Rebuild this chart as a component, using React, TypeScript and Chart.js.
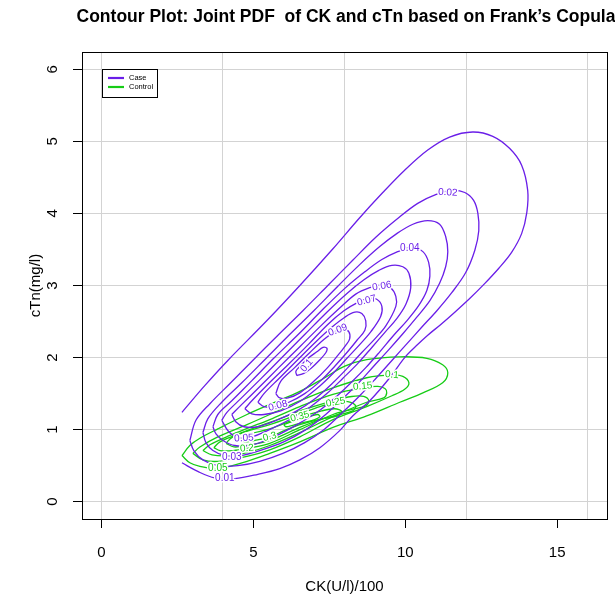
import React, { useEffect, useRef } from 'react';
import { Chart, registerables } from 'chart.js';
Chart.register(...registerables);

const titleText = "Contour Plot: Joint PDF  of CK and cTn based on Frank\u2019s Copula";
const xTitle = 'CK(U/l)/100';
const yTitle = 'cTn(mg/l)';
const xTicks = [0, 5, 10, 15];
const xGridLines = [0, 4, 8, 12, 16];
const yTicks = [0, 1, 2, 3, 4, 5, 6];
const seriesNames = ['Case', 'Control'];
const caseColor = '#6a1ee8';
const ctrlColor = '#16cc16';

// Case contours (CK, cTn); level 0.01 is open at the left edge
const case001 = [[2.65,1.24],[3.40,1.61],[4.16,1.96],[5.44,2.51],[6.53,3.00],[7.62,3.51],[8.50,3.94],[9.26,4.29],[9.98,4.60],[10.74,4.88],[11.46,5.06],[12.22,5.13],[12.88,5.07],[13.44,4.90],[13.83,4.67],[14.03,4.32],[14.00,4.01],[13.83,3.72],[13.50,3.46],[13.08,3.24],[12.62,3.03],[12.12,2.82],[11.63,2.63],[11.17,2.46],[10.74,2.31],[10.38,2.17],[9.98,2.00],[9.49,1.72],[8.83,1.40],[8.27,1.19],[7.85,0.99],[7.19,0.75],[6.53,0.58],[5.87,0.46],[5.15,0.38],[4.39,0.32],[3.73,0.33],[3.17,0.42],[2.65,0.54]];
const case002 = [[2.91,0.85],[3.11,1.13],[3.57,1.36],[4.23,1.64],[4.98,1.96],[5.81,2.31],[6.63,2.65],[7.45,3.00],[8.27,3.35],[9.03,3.67],[9.75,3.93],[10.41,4.14],[11.00,4.26],[11.53,4.32],[11.96,4.29],[12.25,4.18],[12.39,4.00],[12.42,3.76],[12.29,3.49],[11.99,3.18],[11.53,2.90],[11.04,2.65],[10.54,2.42],[10.05,2.19],[9.56,1.96],[9.03,1.71],[8.50,1.47],[7.94,1.24],[7.35,1.01],[6.69,0.82],[5.97,0.67],[5.21,0.56],[4.49,0.50],[3.83,0.50],[3.34,0.58],[3.04,0.71]];
const case003 = [[3.34,0.96],[3.50,1.15],[3.96,1.38],[4.62,1.65],[5.35,1.96],[6.17,2.31],[6.99,2.65],[7.78,2.99],[8.50,3.29],[9.16,3.54],[9.72,3.72],[10.25,3.85],[10.74,3.90],[11.13,3.85],[11.33,3.68],[11.40,3.47],[11.33,3.26],[11.13,3.03],[10.81,2.79],[10.38,2.56],[9.92,2.33],[9.46,2.11],[8.96,1.88],[8.47,1.65],[7.94,1.43],[7.38,1.21],[6.73,1.00],[6.00,0.83],[5.21,0.71],[4.56,0.64],[4.06,0.64],[3.67,0.71],[3.44,0.82]];
const case004 = [[3.67,1.04],[3.83,1.21],[4.29,1.40],[4.95,1.68],[5.67,1.99],[6.50,2.33],[7.29,2.67],[8.01,2.96],[8.67,3.19],[9.23,3.36],[9.75,3.47],[10.21,3.53],[10.58,3.47],[10.77,3.32],[10.81,3.13],[10.71,2.93],[10.44,2.72],[10.05,2.51],[9.62,2.31],[9.16,2.08],[8.70,1.86],[8.21,1.65],[7.68,1.44],[7.09,1.24],[6.40,1.06],[5.67,0.90],[4.98,0.79],[4.39,0.78],[4.00,0.85],[3.77,0.94]];
const case005 = [[3.96,1.13],[4.13,1.24],[4.56,1.42],[5.21,1.69],[5.94,2.00],[6.69,2.32],[7.42,2.63],[8.08,2.89],[8.64,3.08],[9.13,3.21],[9.56,3.28],[9.92,3.26],[10.12,3.17],[10.18,2.97],[10.02,2.74],[9.72,2.54],[9.33,2.35],[8.90,2.14],[8.44,1.92],[7.94,1.71],[7.42,1.50],[6.86,1.31],[6.20,1.14],[5.48,0.99],[4.88,0.89],[4.49,0.89],[4.19,0.97]];
const case006 = [[4.29,1.21],[4.62,1.35],[5.15,1.57],[5.81,1.85],[6.53,2.15],[7.22,2.44],[7.85,2.69],[8.37,2.88],[8.83,2.97],[9.23,3.01],[9.52,2.97],[9.69,2.85],[9.69,2.71],[9.36,2.44],[9.00,2.26],[8.57,2.07],[8.11,1.86],[7.62,1.65],[7.06,1.44],[6.43,1.26],[5.77,1.13],[5.15,1.04],[4.69,1.04],[4.42,1.11]];
const case007 = [[4.72,1.29],[4.95,1.40],[5.48,1.63],[6.14,1.90],[6.83,2.19],[7.45,2.46],[7.98,2.65],[8.41,2.76],[8.77,2.82],[9.06,2.81],[9.23,2.71],[9.19,2.57],[8.87,2.36],[8.50,2.18],[8.08,1.99],[7.62,1.78],[7.09,1.57],[6.53,1.39],[5.90,1.26],[5.35,1.21],[4.95,1.22]];
const case008 = [[5.15,1.38],[5.35,1.50],[5.87,1.72],[6.46,1.97],[7.06,2.22],[7.58,2.42],[8.01,2.56],[8.34,2.63],[8.57,2.61],[8.70,2.51],[8.67,2.38],[8.41,2.24],[8.08,2.07],[7.68,1.88],[7.22,1.68],[6.69,1.50],[6.17,1.38],[5.71,1.32],[5.35,1.32]];
const case009 = [[5.74,1.50],[5.90,1.67],[6.36,1.86],[6.86,2.07],[7.32,2.25],[7.68,2.36],[7.94,2.40],[8.14,2.36],[8.17,2.26],[8.04,2.17],[7.78,2.03],[7.42,1.85],[6.99,1.67],[6.53,1.51],[6.14,1.44],[5.87,1.44]];
const case010 = [[6.43,1.75],[6.40,1.81],[6.56,1.89],[6.83,2.00],[7.09,2.08],[7.29,2.14],[7.42,2.13],[7.39,2.07],[7.19,1.97],[6.92,1.86],[6.66,1.78]];

// Control contours
const ctrl005 = [[2.65,0.64],[2.91,0.78],[3.24,0.88],[3.83,1.01],[4.79,1.21],[5.54,1.35],[6.53,1.53],[7.35,1.72],[8.01,1.88],[8.73,1.97],[9.82,2.01],[10.71,1.99],[11.23,1.90],[11.40,1.79],[11.23,1.65],[10.58,1.51],[9.82,1.38],[8.73,1.19],[7.62,1.03],[6.53,0.83],[5.54,0.67],[4.79,0.56],[3.83,0.46],[3.24,0.49],[2.91,0.54]];
const ctrl010 = [[3.01,0.67],[3.24,0.76],[3.83,0.90],[4.79,1.07],[5.54,1.21],[6.53,1.40],[7.62,1.58],[8.73,1.72],[9.56,1.76],[9.92,1.74],[10.12,1.65],[9.98,1.56],[9.56,1.47],[8.73,1.32],[7.62,1.14],[6.53,0.90],[5.54,0.72],[4.79,0.63],[3.83,0.56],[3.34,0.58]];
const ctrl015 = [[3.34,0.71],[3.57,0.79],[4.23,0.92],[4.88,1.03],[5.54,1.14],[6.53,1.32],[7.62,1.49],[8.60,1.58],[9.10,1.60],[9.33,1.57],[9.39,1.51],[9.29,1.44],[8.73,1.38],[7.62,1.18],[6.53,0.96],[5.54,0.78],[4.79,0.68],[4.23,0.64],[3.64,0.65]];
const ctrl020 = [[3.70,0.75],[3.90,0.83],[4.39,0.92],[4.88,1.00],[5.54,1.10],[6.53,1.26],[7.62,1.40],[8.24,1.46],[8.63,1.46],[8.80,1.40],[8.70,1.33],[8.24,1.28],[7.62,1.21],[6.53,1.00],[5.54,0.81],[4.79,0.74],[4.33,0.71],[3.90,0.71]];
const ctrl025 = [[4.10,0.81],[4.29,0.89],[4.88,0.99],[5.54,1.07],[6.53,1.22],[7.19,1.32],[7.71,1.38],[8.11,1.39],[8.37,1.33],[8.27,1.26],[7.85,1.21],[7.19,1.14],[6.53,1.03],[5.54,0.85],[4.79,0.78],[4.36,0.76]];
const ctrl030 = [[4.56,0.86],[4.88,0.94],[5.54,1.01],[6.53,1.17],[7.25,1.26],[7.68,1.29],[7.91,1.25],[7.78,1.19],[7.25,1.15],[6.53,1.07],[6.04,0.99],[5.54,0.90],[5.05,0.85],[4.75,0.83]];
const ctrl035 = [[6.00,1.07],[6.27,1.11],[6.60,1.15],[6.92,1.19],[7.12,1.21],[7.19,1.18],[7.02,1.14],[6.66,1.10],[6.30,1.06],[6.07,1.04]];

// contour labels: text, position (CK, cTn), angle in degrees
const caseLabelText = ['0.01','0.02','0.03','0.04','0.05','0.06','0.07','0.08','0.09','0.1'];
const caseLabelPos = [[4.06,0.33],[11.40,4.29],[4.29,0.61],[10.15,3.51],[4.69,0.88],[9.23,2.99],[8.73,2.79],[5.81,1.33],[7.78,2.38],[6.76,1.89]];
const caseLabelAngle = [0, 3, 0, 0, -3, -10, -15, -15, -20, -50];
const ctrlLabelText = ['0.05','0.1','0.15','0.2','0.25','0.3','0.35'];
const ctrlLabelPos = [[3.83,0.46],[9.56,1.76],[8.60,1.60],[4.79,0.74],[7.71,1.38],[5.54,0.90],[6.53,1.18]];
const ctrlLabelAngle = [0, 5, -5, -5, -10, -15, -15];

const caseContours = [case001, case002, case003, case004, case005, case006, case007, case008, case009, case010];
const caseClosed = [false, true, true, true, true, true, true, true, true, true];
const ctrlContours = [ctrl005, ctrl010, ctrl015, ctrl020, ctrl025, ctrl030, ctrl035];

const FONT = "'Liberation Sans', Arial, Helvetica, sans-serif";

function toPoints(arr: number[][], closed: boolean) {
  const pts = arr.map(([x, y]) => ({ x, y }));
  if (closed) pts.push({ x: arr[0][0], y: arr[0][1] });
  return pts;
}

const decorPlugin = {
  id: 'decor',
  afterDatasetsDraw(chart: any) {
    const ctx = chart.ctx;
    const xs = chart.scales.x;
    const ys = chart.scales.y;
    const area = chart.chartArea;
    ctx.save();
    ctx.beginPath();
    ctx.rect(area.left, area.top, area.right - area.left, area.bottom - area.top);
    ctx.clip();
    const drawLabels = (texts: string[], pos: number[][], ang: number[], color: string) => {
      texts.forEach((t, i) => {
        const px = xs.getPixelForValue(pos[i][0]);
        const py = ys.getPixelForValue(pos[i][1]);
        ctx.save();
        ctx.translate(px, py);
        ctx.rotate((ang[i] * Math.PI) / 180);
        ctx.font = `10px ${FONT}`;
        ctx.textAlign = 'center';
        ctx.textBaseline = 'middle';
        ctx.lineWidth = 3;
        ctx.strokeStyle = '#ffffff';
        ctx.strokeText(t, 0, 0);
        ctx.fillStyle = color;
        ctx.fillText(t, 0, 0);
        ctx.restore();
      });
    };
    drawLabels(caseLabelText, caseLabelPos, caseLabelAngle, caseColor);
    drawLabels(ctrlLabelText, ctrlLabelPos, ctrlLabelAngle, ctrlColor);
    ctx.restore();
  },
  afterDraw(chart: any) {
    const ctx = chart.ctx;
    const xs = chart.scales.x;
    const ys = chart.scales.y;
    const area = chart.chartArea;
    ctx.save();
    ctx.strokeStyle = '#000';
    ctx.lineWidth = 1;
    ctx.strokeRect(Math.round(area.left) + 0.5, Math.round(area.top) + 0.5, Math.round(area.right - area.left), Math.round(area.bottom - area.top));
    ctx.fillStyle = '#000';
    ctx.font = `bold 17.5px ${FONT}`;
    ctx.textAlign = 'center';
    ctx.textBaseline = 'alphabetic';
    ctx.fillText(titleText, 346, 22);
    ctx.font = `15px ${FONT}`;
    xTicks.forEach((v) => {
      ctx.fillText(String(v), xs.getPixelForValue(v), 557);
    });
    ctx.fillText(xTitle, (area.left + area.right) / 2, 591);
    yTicks.forEach((v) => {
      ctx.save();
      ctx.translate(57, ys.getPixelForValue(v));
      ctx.rotate(-Math.PI / 2);
      ctx.fillText(String(v), 0, 0);
      ctx.restore();
    });
    ctx.save();
    ctx.translate(40, (area.top + area.bottom) / 2);
    ctx.rotate(-Math.PI / 2);
    ctx.fillText(yTitle, 0, 0);
    ctx.restore();
    const lx = area.left + 20, ly = area.top + 17;
    ctx.fillStyle = '#fff';
    ctx.fillRect(lx, ly, 55, 28);
    ctx.strokeStyle = '#000';
    ctx.lineWidth = 1;
    ctx.strokeRect(lx + 0.5, ly + 0.5, 55, 28);
    const cols = [caseColor, ctrlColor];
    seriesNames.forEach((n, i) => {
      const yy = ly + 9 + i * 9;
      ctx.strokeStyle = cols[i];
      ctx.lineWidth = 2.2;
      ctx.beginPath();
      ctx.moveTo(lx + 6, yy);
      ctx.lineTo(lx + 22, yy);
      ctx.stroke();
      ctx.fillStyle = '#000';
      ctx.font = `7.5px ${FONT}`;
      ctx.textAlign = 'left';
      ctx.textBaseline = 'middle';
      ctx.fillText(n, lx + 27, yy);
    });
    ctx.restore();
  },
};

export default function App() {
  const ref = useRef<HTMLCanvasElement | null>(null);
  useEffect(() => {
    if (!ref.current) return;
    const datasets: any[] = [];
    caseContours.forEach((c, i) => {
      datasets.push({
        data: toPoints(c, caseClosed[i]),
        borderColor: caseColor,
        borderWidth: 1.3,
        showLine: true,
        pointRadius: 0,
        tension: 0.35,
        fill: false,
      });
    });
    ctrlContours.forEach((c) => {
      datasets.push({
        data: toPoints(c, true),
        borderColor: ctrlColor,
        borderWidth: 1.3,
        showLine: true,
        pointRadius: 0,
        tension: 0.35,
        fill: false,
      });
    });
    const chart = new Chart(ref.current, {
      type: 'scatter',
      data: { datasets },
      options: {
        animation: false,
        responsive: false,
        devicePixelRatio: 1,
        layout: { padding: { left: 0, top: 52, right: 8, bottom: 0 } },
        plugins: { legend: { display: false }, tooltip: { enabled: false }, title: { display: false } },
        scales: {
          x: {
            type: 'linear',
            position: 'bottom',
            min: -0.64,
            max: 16.64,
            afterBuildTicks: (s: any) => { s.ticks = xTicks.map((v) => ({ value: v })); },
            afterFit: (s: any) => { s.height = 76; },
            ticks: { display: false },
            border: { display: false },
            grid: { drawOnChartArea: false, drawTicks: true, tickLength: 9, tickColor: '#000', color: '#000' },
          },
          x2: {
            type: 'linear',
            position: 'top',
            min: -0.64,
            max: 16.64,
            afterBuildTicks: (s: any) => { s.ticks = xGridLines.map((v) => ({ value: v })); },
            afterFit: (s: any) => { s.height = 0; },
            ticks: { display: false },
            border: { display: false },
            grid: { drawOnChartArea: true, drawTicks: false, color: '#d3d3d3', lineWidth: 1 },
          },
          y: {
            type: 'linear',
            position: 'left',
            min: -0.24,
            max: 6.24,
            afterBuildTicks: (s: any) => { s.ticks = yTicks.map((v) => ({ value: v })); },
            afterFit: (s: any) => { s.width = 82; },
            ticks: { display: false },
            border: { display: false },
            grid: { drawOnChartArea: true, drawTicks: true, tickLength: 9, tickColor: '#000', color: '#d3d3d3', lineWidth: 1 },
          },
        },
      },
      plugins: [decorPlugin],
    });
    return () => chart.destroy();
  }, []);
  return (
    <div style={{ position: 'fixed', left: 0, top: 0, width: 615, height: 595, background: '#fff' }}>
      <canvas ref={ref} width={615} height={595} style={{ width: 615, height: 595, display: 'block' }} />
    </div>
  );
}
